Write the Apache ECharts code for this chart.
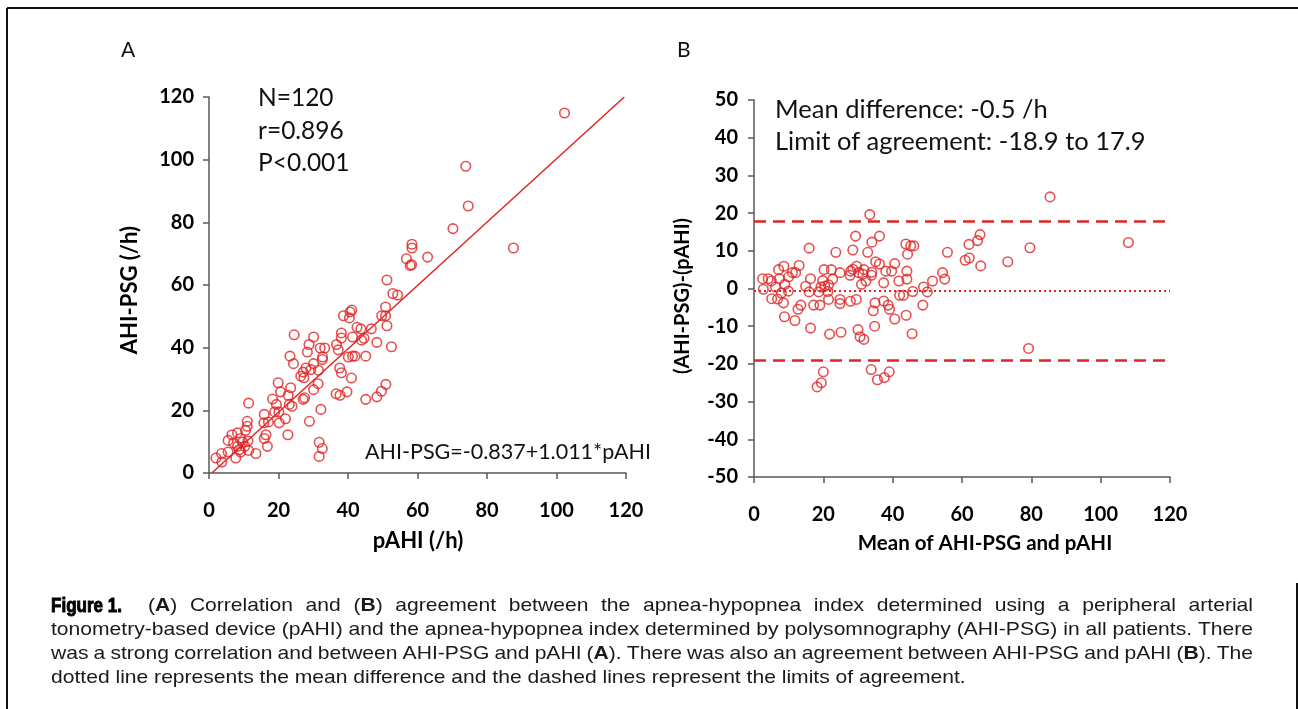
<!DOCTYPE html>
<html>
<head>
<meta charset="utf-8">
<script src="https://cdn.jsdelivr.net/npm/echarts@6/dist/echarts.min.js"></script>
<style>
html,body{margin:0;padding:0;background:#fff;}
#main{width:1298px;height:709px;}
</style>
</head>
<body>
<div id="main"></div>
<script>
// ---- Panel A: pAHI (x) vs AHI-PSG (y) ----
const aX = [102.3, 73.9, 74.6, 70.2, 87.6, 58.4, 58.4, 62.9, 56.8, 57.9, 58.3, 51.2, 52.9, 54.3, 50.8, 49.7, 50.8, 51.2, 46.7, 42.6,
  43.7, 41.1, 40.6, 38.7, 40.4, 38.1, 38.1, 36.7, 37.2, 41.3, 43.9, 44.6, 48.3, 52.5, 40.1, 41.3, 42.0, 45.1, 37.6, 38.1,
  41.0, 50.9, 49.6, 48.3, 45.1, 39.7, 37.7, 36.6, 24.5, 30.1, 28.8, 28.3, 32.0, 33.3, 32.7, 32.6, 23.3, 24.3, 30.1, 27.9,
  27.1, 26.4, 27.3, 29.3, 31.5, 31.4, 30.1, 27.5, 27.1, 19.9, 23.5, 20.6, 22.8, 18.3, 19.4, 23.1, 23.9, 11.4, 18.9, 20.1,
  22.0, 15.9, 20.2, 17.1, 15.8, 28.9, 32.2, 22.7, 16.4, 15.9, 16.8, 31.7, 32.6, 31.7, 11.0, 11.0, 10.5, 8.2, 6.6, 5.5,
  7.1, 9.0, 9.7, 10.3, 8.2, 11.4, 9.1, 7.7, 13.5, 5.5, 3.6, 2.0, 3.7, 11.2, 8.7];
const aY = [114.9, 97.9, 85.2, 78.0, 71.8, 73.0, 71.8, 68.9, 68.4, 66.2, 66.5, 61.6, 57.3, 56.8, 53.0, 50.2, 50.2, 47.0, 46.0, 46.5,
  46.0, 52.0, 51.4, 50.2, 49.5, 44.7, 43.1, 41.0, 39.3, 43.4, 42.4, 43.0, 41.7, 40.3, 37.0, 37.3, 37.3, 37.3, 33.5, 32.0,
  30.3, 28.3, 26.1, 24.3, 23.5, 25.9, 24.8, 25.3, 44.1, 43.4, 41.0, 38.6, 39.9, 39.9, 37.0, 36.2, 37.3, 34.9, 34.9, 33.5,
  32.2, 30.9, 30.4, 33.0, 32.8, 28.5, 26.6, 24.0, 23.5, 28.8, 27.2, 25.9, 24.8, 23.6, 21.9, 21.9, 21.3, 22.3, 19.5, 19.5,
  17.3, 18.7, 16.0, 16.3, 16.0, 16.5, 20.3, 12.2, 12.2, 11.0, 8.5, 9.8, 7.8, 5.3, 16.5, 14.9, 13.6, 12.8, 12.2, 10.4,
  9.6, 11.0, 9.9, 8.5, 8.5, 7.2, 6.7, 4.8, 6.2, 6.7, 6.2, 4.8, 3.5, 10.2, 7.4];
// regression line AHI-PSG = -0.837 + 1.011*pAHI, endpoints
const regX = [0.83, 119.5];
const regY = [0, 120];

// ---- Panel B: Bland-Altman ----
const bX = [85.4, 108.0, 79.6, 79.2, 73.2, 65.2, 64.5, 62.0, 62.1, 60.9, 65.4, 55.8, 54.4, 55.0, 51.5, 48.9, 50.0, 48.7, 45.6, 43.8,
  45.2, 46.1, 44.3, 44.1, 44.1, 41.8, 45.8, 42.0, 43.1, 43.9, 40.6, 40.6, 39.7, 38.0, 37.4, 37.4, 38.7, 39.1, 39.0, 37.6,
  35.6, 33.8, 36.2, 34.0, 33.4, 32.8, 35.1, 36.2, 34.0, 33.9, 34.9, 34.4, 34.8, 31.7, 30.6, 30.0, 29.3, 28.5, 29.6, 28.5,
  27.9, 27.7, 30.2, 31.7, 31.4, 32.3, 31.0, 29.5, 27.8, 24.8, 24.8, 25.1, 23.6, 22.3, 24.8, 20.2, 22.7, 21.5, 21.3, 19.8,
  19.3, 18.7, 20.4, 21.5, 19.0, 17.2, 16.3, 15.9, 14.9, 15.9, 16.3, 21.8, 20.0, 19.4, 18.2, 13.0, 12.0, 11.1, 10.0, 8.6,
  7.1, 8.9, 7.3, 6.2, 7.9, 9.9, 5.0, 4.1, 2.5, 2.7, 5.1, 6.8, 8.5, 13.5, 12.7, 8.8, 11.8];
const bY = [24.3, 12.2, 10.8, -15.9, 7.1, 14.3, 12.7, 11.7, 8.1, 7.5, 6.0, 9.6, 4.2, 2.5, 2.0, 0.4, -0.9, -4.4, -12.0, 11.8,
  11.3, 11.3, 9.1, 4.6, 2.5, 2.0, -0.8, -1.8, -1.8, -7.1, -8.1, 6.6, 4.6, 4.6, 1.5, -3.3, -4.4, -5.5, -22.1, -23.6,
  -24.2, -21.5, 13.9, 12.3, 19.6, 9.6, 7.1, 6.5, 4.3, 3.5, -3.8, -5.9, -10.0, -13.5, -12.8, -10.9, 13.9, 10.2, 5.9, 5.1,
  4.6, 3.5, 4.2, 5.0, 3.8, 2.0, 1.1, -2.9, -3.4, -2.9, -4.0, -11.6, 9.6, 5.0, 4.2, 5.0, 2.5, 1.0, -0.8, 2.1,
  0.4, -0.9, 0.6, -2.9, -4.4, -4.4, 2.6, -0.9, 0.6, 10.7, -10.5, -12.1, -22.1, -25.0, -26.1, 6.1, 4.2, 4.2, 3.1, 5.9,
  5.0, 1.1, 2.6, 0.4, -1.2, -0.7, 2.0, 2.6, 2.6, -0.2, -2.7, -2.8, -3.8, -4.4, -5.5, -7.5, -8.5];
const meanDiff = -0.5;
const limits = [-18.9, 17.9];

// ---- Texts ----
const statsA = ['N=120', 'r=0.896', 'P<0.001'];
const eqA = 'AHI-PSG=-0.837+1.011*pAHI';
const statsB = ['Mean difference: -0.5 /h', 'Limit of agreement: -18.9 to 17.9'];
const axisNames = ['pAHI (/h)', 'AHI-PSG (/h)', 'Mean of AHI-PSG and pAHI', '(AHI-PSG)-(pAHI)'];
const captionLines = [
  [['(', 0], ['A', 1], [') Correlation and (', 0], ['B', 1], [') agreement between the apnea-hypopnea index determined using a peripheral arterial', 0]],
  [['tonometry-based device (pAHI) and the apnea-hypopnea index determined by polysomnography (AHI-PSG) in all patients. There', 0]],
  [['was a strong correlation and between AHI-PSG and pAHI (', 0], ['A', 1], ['). There was also an agreement between AHI-PSG and pAHI (', 0], ['B', 1], ['). The', 0]],
  [['dotted line represents the mean difference and the dashed lines represent the limits of agreement.', 0]]
];

const RED = '#e02424';
const AXC = '#595959';
const FF = 'Lato, "Open Sans", sans-serif';

const chart = echarts.init(document.getElementById('main'));

// ---- caption layout (justified words) ----
const cv = document.createElement('canvas').getContext('2d');
const CFS = 19, CFF = '"Liberation Sans", Arial, sans-serif';
function mw(t, b) { cv.font = (b ? 'bold ' : '') + CFS + 'px ' + CFF; return cv.measureText(t).width; }
function toWords(line) {
  const words = [[]];
  line.forEach(([t, b]) => {
    const parts = t.split(' ');
    parts.forEach((p, i) => {
      if (i > 0) words.push([]);
      if (p.length) words[words.length - 1].push([p, b]);
    });
  });
  return words.filter(w => w.length);
}
const capGraphics = [];
const lineY = [606, 630, 654, 678];
const lineX0 = [148, 51, 51, 51];
const lineX1 = 1253;
const spaceW = mw(' ', 0);
const wordsPerLine = captionLines.map(toWords);
function wordW(w) { return w.reduce((s, [t, b]) => s + mw(t, b), 0); }
const nat2 = wordsPerLine[1].reduce((s, w) => s + wordW(w), 0) + spaceW * (wordsPerLine[1].length - 1);
const sx = (lineX1 - lineX0[1]) / nat2;
wordsPerLine.forEach((words, li) => {
  const total = words.reduce((s, w) => s + wordW(w), 0) * sx;
  let gap = spaceW * sx;
  if (li < 3) gap = (lineX1 - lineX0[li] - total) / (words.length - 1);
  let x = lineX0[li];
  words.forEach(w => {
    w.forEach(([t, b]) => {
      capGraphics.push({
        type: 'text', x: x, y: lineY[li], scaleX: sx, silent: true,
        style: { text: t, fontSize: CFS, fontFamily: CFF, fontWeight: b ? 'bold' : 'normal', fill: '#1a1a1a',
          align: 'left', verticalAlign: 'middle', textAlign: 'left', textVerticalAlign: 'middle' }
      });
      x += mw(t, b) * sx;
    });
    x += gap;
  });
});
// "Figure 1." heavy condensed
cv.font = 'bold 20px "Liberation Sans Narrow", "Liberation Sans", sans-serif';
const figW = cv.measureText('Figure 1.').width;
capGraphics.push({
  type: 'text', x: 51, y: 606, scaleX: 71 / figW, silent: true,
  style: { text: 'Figure 1.', fontSize: 20, fontWeight: 'bold', fontFamily: '"Liberation Sans Narrow", "Liberation Sans", sans-serif',
    fill: '#000', stroke: '#000', lineWidth: 0.9, align: 'left', verticalAlign: 'middle', textAlign: 'left', textVerticalAlign: 'middle' }
});

function txt(x, y, t, size, extra, props) {
  return Object.assign({
    type: 'text', x: x, y: y, silent: true,
    style: Object.assign({ text: t, fontSize: size, fontFamily: FF, fill: '#111',
      align: 'left', verticalAlign: 'middle', textAlign: 'left', textVerticalAlign: 'middle' }, extra || {})
  }, props || {});
}
const centered = { align: 'center', textAlign: 'center', fontWeight: 'bold', fill: '#000' };

const graphics = [
  { type: 'line', shape: { x1: 7, y1: 8, x2: 1298, y2: 8 }, style: { stroke: '#111', lineWidth: 2 }, silent: true },
  { type: 'line', shape: { x1: 7, y1: 8, x2: 7, y2: 709 }, style: { stroke: '#111', lineWidth: 2 }, silent: true },
  { type: 'line', shape: { x1: 1297, y1: 583, x2: 1297, y2: 709 }, style: { stroke: '#111', lineWidth: 2 }, silent: true },
  txt(121, 50, 'A', 21),
  txt(677, 50, 'B', 21),
  txt(258, 98, statsA[0], 24.5),
  txt(258, 131, statsA[1], 24.5),
  txt(258, 163, statsA[2], 24.5),
  txt(365, 452, eqA, 21.5),
  txt(775, 110, statsB[0], 25.5),
  txt(775, 142, statsB[1], 25.5),
  txt(418, 541, axisNames[0], 22, centered),
  txt(130, 290, axisNames[1], 22, centered, { rotation: Math.PI / 2 }),
  txt(985, 543, axisNames[2], 20.5, centered),
  txt(683, 296, axisNames[3], 20, centered, { rotation: Math.PI / 2 })
].concat(capGraphics);

const axisCommon = {
  axisLine: { show: true, onZero: false, lineStyle: { color: AXC, width: 1.5 } },
  axisTick: { show: true, inside: false, length: 6, lineStyle: { color: AXC, width: 1.5 } },
  splitLine: { show: false },
  axisLabel: { color: '#000', fontFamily: FF, fontWeight: 'bold', fontSize: 20 }
};
function ax(o) { return echarts.util.merge(echarts.util.clone(axisCommon), o, true); }

const option = {
  animation: false,
  backgroundColor: '#fff',
  grid: [
    { left: 209, top: 97, width: 417, height: 376 },
    { left: 754, top: 100, width: 416, height: 377 }
  ],
  xAxis: [
    ax({ gridIndex: 0, type: 'value', min: 0, max: 120, interval: 20, axisLabel: { margin: 28 } }),
    ax({ gridIndex: 1, type: 'value', min: 0, max: 120, interval: 20, axisLabel: { margin: 28 } })
  ],
  yAxis: [
    ax({ gridIndex: 0, type: 'value', min: 0, max: 120, interval: 20, axisLabel: { margin: 15 } }),
    ax({ gridIndex: 1, type: 'value', min: -50, max: 50, interval: 10, axisLabel: { margin: 16 } })
  ],
  graphic: graphics,
  series: [
    {
      type: 'line', xAxisIndex: 0, yAxisIndex: 0, data: regX.map((x, i) => [x, regY[i]]),
      symbol: 'none', lineStyle: { color: RED, width: 1.5 }, silent: true, z: 1
    },
    {
      type: 'scatter', xAxisIndex: 0, yAxisIndex: 0, data: aX.map((x, i) => [x, aY[i]]),
      symbol: 'circle', symbolSize: 9.5,
      itemStyle: { color: 'rgba(0,0,0,0)', borderColor: RED, borderWidth: 1.6 }, z: 2
    },
    {
      type: 'scatter', xAxisIndex: 1, yAxisIndex: 1, data: bX.map((x, i) => [x, bY[i]]),
      symbol: 'circle', symbolSize: 9.5,
      itemStyle: { color: 'rgba(0,0,0,0)', borderColor: RED, borderWidth: 1.6 }, z: 2,
      markLine: {
        silent: true, symbol: 'none', label: { show: false },
        data: [
          { yAxis: meanDiff, lineStyle: { color: RED, width: 2, type: [2, 3] } },
          { yAxis: limits[0], lineStyle: { color: RED, width: 2.5, type: [12, 7] } },
          { yAxis: limits[1], lineStyle: { color: RED, width: 2.5, type: [12, 7] } }
        ]
      }
    }
  ]
};
chart.setOption(option);
</script>
</body>
</html>
